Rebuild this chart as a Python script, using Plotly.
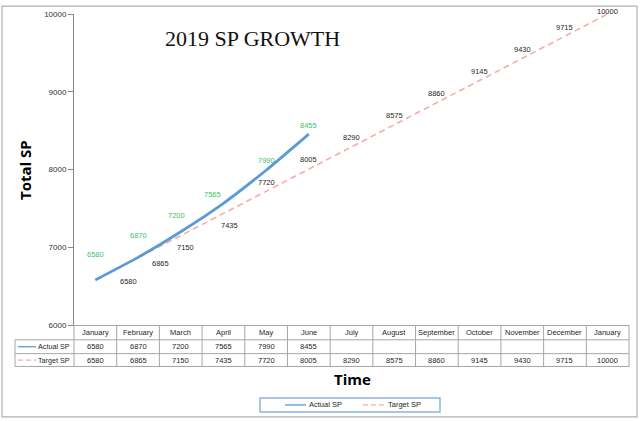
import plotly.graph_objects as go

# ---------------- data ----------------
months = ["January", "February", "March", "April", "May", "June", "July",
          "August", "September", "October", "November", "December", "January"]
actual_sp = [6580, 6870, 7200, 7565, 7990, 8455]
target_sp = [6580, 6865, 7150, 7435, 7720, 8005, 8290, 8575, 8860, 9145, 9430, 9715, 10000]
y_ticks = [6000, 7000, 8000, 9000, 10000]

# label offsets (style, pixels)
actual_dx = [0, 0, -4, -11, 0, 0]
actual_dy = [25, 22, 16, 9, 10, 9]
target_dx = [33, 22, 5, 6, 0, 0, 0, 0, 0, 0, 0, 0, 0]
target_dy = [-2, -6, -12, -12, 9, 10, 9, 9, 9, 9, 9, 9, 3]

W_PX, H_PX = 640, 421
L, R, T, B = 74, 11, 10, 96
PW = W_PX - L - R
PH = H_PX - T - B
BOTTOM = H_PX - B


def px(p):
    return (p - L) / PW


def py(p):
    return (BOTTOM - p) / PH


BLUE = "#5b9bd5"
PINK = "#ffa8a8"
GREEN = "#3cbf6a"
GRID = "#a6a6a6"
FONT = "Liberation Sans"
TXT = "#262626"

xs = list(range(len(months)))

fig = go.Figure()
fig.add_trace(go.Scatter(x=xs, y=target_sp, mode="lines",
                         line=dict(color=PINK, width=1.6, dash="6px,4px"),
                         name="Target SP", showlegend=False, hoverinfo="skip"))
fig.add_trace(go.Scatter(x=xs[:len(actual_sp)], y=actual_sp, mode="lines",
                         line=dict(color=BLUE, width=2.8, shape="spline", smoothing=0.5),
                         name="Actual SP", showlegend=False, hoverinfo="skip"))

ann = []
shapes = []


def text(x, y, s, size=7.5, color=TXT, family=FONT, xanchor="center", **kw):
    ann.append(dict(x=x, y=y, xref="paper", yref="paper", text=s, showarrow=False,
                    xanchor=xanchor, yanchor="middle",
                    font=dict(family=family, size=size, color=color), **kw))


# data labels
for i, v in enumerate(actual_sp):
    ann.append(dict(x=xs[i], y=v, xref="x", yref="y", text=str(v), showarrow=False,
                    xanchor="center", yanchor="middle",
                    xshift=actual_dx[i], yshift=actual_dy[i],
                    font=dict(family=FONT, size=7.5, color=GREEN)))
for i, v in enumerate(target_sp):
    ann.append(dict(x=xs[i], y=v, xref="x", yref="y", text=str(v), showarrow=False,
                    xanchor="center", yanchor="middle",
                    xshift=target_dx[i], yshift=target_dy[i],
                    font=dict(family=FONT, size=7.5, color=TXT)))

# title
text(px(252), py(35), "2019 SP GROWTH", size=22, color="#111111", family="Liberation Serif")
# axis titles
text(px(352), py(380), "<b>Time</b>", size=15, color="#000000", family="Open Sans")
text(px(25), py(168), "<b>Total SP</b>", size=15, color="#000000", family="Open Sans", textangle=-90)

# data table
n = len(months)
row_tops = [325, 340, 354, 367]
row_mid = [332.5, 347, 360.5]
for k in range(n + 1):
    shapes.append(dict(type="line", xref="paper", yref="paper", x0=k / n, x1=k / n,
                       y0=py(325), y1=py(367), line=dict(color=GRID, width=1)))
shapes.append(dict(type="line", xref="paper", yref="paper", x0=px(15), x1=px(15),
                   y0=py(340), y1=py(367), line=dict(color=GRID, width=1)))
for yy in row_tops[1:]:
    shapes.append(dict(type="line", xref="paper", yref="paper", x0=px(15), x1=1,
                       y0=py(yy), y1=py(yy), line=dict(color=GRID, width=1)))
for i, m in enumerate(months):
    text((i + 0.5) / n, py(row_mid[0]), m)
for i, v in enumerate(actual_sp):
    text((i + 0.5) / n, py(row_mid[1]), str(v))
for i, v in enumerate(target_sp):
    text((i + 0.5) / n, py(row_mid[2]), str(v))
# table legend keys
shapes.append(dict(type="line", xref="paper", yref="paper", x0=px(18), x1=px(36),
                   y0=py(row_mid[1]), y1=py(row_mid[1]), line=dict(color=BLUE, width=1.3)))
shapes.append(dict(type="line", xref="paper", yref="paper", x0=px(18), x1=px(36),
                   y0=py(row_mid[2]), y1=py(row_mid[2]),
                   line=dict(color=PINK, width=1.3, dash="5px,3px")))
text(px(72), py(row_mid[1]), "Actual SP", xanchor="right", size=7.2)
text(px(72), py(row_mid[2]), "Target SP", xanchor="right", size=7.2)

# bottom legend
shapes.append(dict(type="rect", xref="paper", yref="paper", x0=px(260), x1=px(440),
                   y0=py(399), y1=py(413), line=dict(color="#8db3e2", width=1.5)))
shapes.append(dict(type="line", xref="paper", yref="paper", x0=px(285), x1=px(306),
                   y0=py(406), y1=py(406), line=dict(color=BLUE, width=1.3)))
shapes.append(dict(type="line", xref="paper", yref="paper", x0=px(363), x1=px(385),
                   y0=py(406), y1=py(406), line=dict(color=PINK, width=1.3, dash="5px,3px")))
text(px(307), py(406), "Actual SP", xanchor="left")
text(px(386), py(406), "Target SP", xanchor="left")

# outer border
shapes.append(dict(type="rect", xref="paper", yref="paper", x0=px(2), x1=px(637),
                   y0=py(2), y1=py(418), line=dict(color="#b0b0b0", width=1.2)))

fig.update_layout(
    width=W_PX, height=H_PX,
    margin=dict(l=L, r=R, t=T, b=B),
    paper_bgcolor="white", plot_bgcolor="white",
    showlegend=False,
    annotations=ann, shapes=shapes,
    xaxis=dict(range=[-0.5, n - 0.5], showticklabels=False, showgrid=False, zeroline=False,
               showline=True, linecolor=GRID, linewidth=1, ticks=""),
    yaxis=dict(range=[6000, 10000], tickvals=y_ticks, ticktext=[str(t) for t in y_ticks],
               showgrid=False, zeroline=False,
               showline=True, linecolor="#868686", linewidth=1, ticks="outside", ticklen=5,
               tickcolor="#868686", tickfont=dict(family=FONT, size=8, color="#333333")),
)

fig.write_html("out.html", config={"displayModeBar": False},
               post_script="document.body.style.margin='0';document.body.style.overflow='hidden';")
